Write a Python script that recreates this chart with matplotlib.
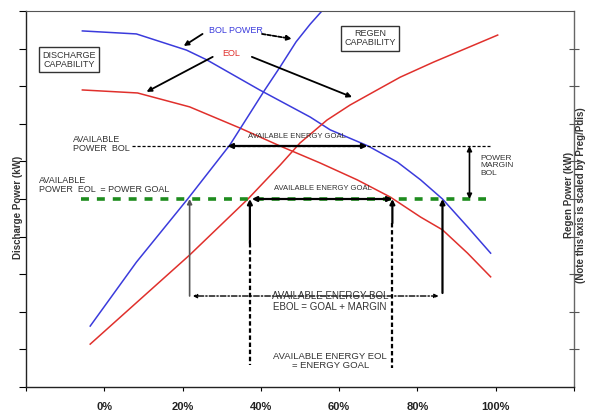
import matplotlib
matplotlib.use("Agg")
import matplotlib.pyplot as plt

plt.rcParams['font.family'] = ['Liberation Sans', 'DejaVu Sans']

# state of charge (%) and power (arbitrary units, 0..10)
bol_dis_x = [-5.6, 8.2, 21.0, 26.2, 39.7, 52.6, 57.7, 67.4, 74.9, 80.8, 86.4, 92.8, 98.7]
bol_dis_y = [9.47, 9.39, 8.96, 8.70, 7.90, 7.18, 6.84, 6.41, 5.98, 5.51, 5.0, 4.26, 3.56]

eol_dis_x = [-5.6, 8.5, 21.8, 34.6, 44.9, 55.1, 64.6, 73.1, 80.8, 86.4, 92.8, 98.7]
eol_dis_y = [7.90, 7.82, 7.45, 6.89, 6.41, 5.96, 5.51, 5.05, 4.52, 4.18, 3.56, 2.93]

bol_reg_x = [-3.6, 8.2, 21.3, 32.1, 41.0, 44.9, 49.0, 52.6, 55.6, 56.7]
bol_reg_y = [1.62, 3.32, 5.0, 6.44, 7.90, 8.51, 9.18, 9.65, 10.0, 10.16]

eol_reg_x = [-3.6, 21.8, 36.7, 44.9, 50.0, 56.9, 62.8, 69.7, 75.6, 84.1, 100.5]
eol_reg_y = [1.14, 3.51, 5.0, 5.90, 6.49, 7.10, 7.50, 7.90, 8.24, 8.64, 9.36]

power_goal = 5.0
power_bol = 6.41
x_ticks = [-20, 0, 20, 40, 60, 80, 100, 120]
x_labels = ['', '0%', '20%', '40%', '60%', '80%', '100%', '']

blue = '#3b3bdc'
red = '#e0302c'
txt = '#333333'

fig = plt.figure(figsize=(6, 4.19), dpi=100)
ax = fig.add_axes([26/600, 1-387/419, 548/600, 376/419])
ax.set_xlim(-20, 120)
ax.set_ylim(0, 10)

ax.plot(bol_dis_x, bol_dis_y, color=blue, lw=1.1)
ax.plot(eol_dis_x, eol_dis_y, color=red, lw=1.1)
ax.plot(bol_reg_x, bol_reg_y, color=blue, lw=1.1)
ax.plot(eol_reg_x, eol_reg_y, color=red, lw=1.1)

# goal line and BOL power line
ax.plot([-5.9, 97.4], [power_goal, power_goal], color='#1e8c1e', lw=2.6,
        dashes=(2.2, 2.2))
ax.plot([7.2, 98.5], [power_bol, power_bol], color='black', lw=0.9,
        dashes=(2.5, 1.5))

arw = dict(arrowstyle='<|-|>', color='black', lw=1.6, mutation_scale=7,
           shrinkA=0, shrinkB=0)
ax.annotate('', xy=(31.5, power_bol), xytext=(67.2, power_bol), arrowprops=arw)
ax.annotate('', xy=(37.7, power_goal), xytext=(73.6, power_goal), arrowprops=arw)
ax.annotate('', xy=(93.3, power_bol), xytext=(93.3, power_goal),
            arrowprops=dict(arw, lw=1.2))
ax.text(49.2, 6.62, 'AVAILABLE ENERGY GOAL', fontsize=5.5, ha='center', color=txt)
ax.text(55.9, 5.24, 'AVAILABLE ENERGY GOAL', fontsize=5.5, ha='center', color=txt)

# vertical markers
up = dict(arrowstyle='-|>', color='black', mutation_scale=7, shrinkA=0, shrinkB=0)
ax.annotate('', xy=(21.8, power_goal), xytext=(21.8, 2.42),
            arrowprops=dict(up, lw=1.2, color='#555555'))
ax.annotate('', xy=(86.4, power_goal), xytext=(86.4, 2.5), arrowprops=dict(up, lw=1.6))
ax.annotate('', xy=(37.2, power_goal), xytext=(37.2, 3.83), arrowprops=dict(up, lw=1.6))
ax.annotate('', xy=(73.6, power_goal), xytext=(73.6, 4.36), arrowprops=dict(up, lw=1.6))
ax.plot([37.2, 37.2], [3.83, 0.585], color='black', lw=1.6, dashes=(2, 1.2))
ax.plot([73.6, 73.6], [4.36, 0.505], color='black', lw=1.6, dashes=(2, 1.2))

ax.annotate('', xy=(22.6, 2.42), xytext=(85.4, 2.42),
            arrowprops=dict(arrowstyle='<|-|>', color='black', lw=1.0,
                            linestyle=(0, (4, 1.5, 1, 1.5)), mutation_scale=6,
                            shrinkA=0, shrinkB=0))
ax.text(57.7, 2.42, 'AVAILABLE ENERGY BOL', fontsize=7, ha='center', va='center', color=txt)
ax.text(57.7, 2.13, 'EBOL = GOAL + MARGIN', fontsize=7, ha='center', va='center', color=txt)
ax.text(57.7, 0.69, 'AVAILABLE ENERGY EOL\n= ENERGY GOAL', fontsize=6.8, ha='center',
        va='center', color=txt, linespacing=1.1)
ax.text(96.2, 5.88, 'POWER\nMARGIN\nBOL', fontsize=6, ha='left', va='center',
        color=txt, linespacing=1.15)

ax.text(-7.9, 6.46, 'AVAILABLE\nPOWER  BOL', fontsize=6.5, ha='left', va='center',
        color=txt, linespacing=1.1)
ax.text(-16.7, 5.37, 'AVAILABLE\nPOWER  EOL  = POWER GOAL', fontsize=6.5, ha='left',
        va='center', color=txt, linespacing=1.1)

# curve labels
ax.text(33.6, 9.47, 'BOL POWER', fontsize=6.5, color=blue, ha='center', va='center')
ax.text(32.3, 8.88, 'EOL', fontsize=6.5, color=red, ha='center', va='center')
lab = dict(arrowstyle='-|>', color='black', lw=1.3, mutation_scale=7,
           shrinkA=0, shrinkB=0)
ax.annotate('', xy=(20.3, 9.07), xytext=(25.1, 9.39), arrowprops=lab)
ax.annotate('', xy=(47.9, 9.26), xytext=(40.3, 9.39),
            arrowprops=dict(lab, linestyle=(0, (2, 1))))
ax.annotate('', xy=(10.8, 7.85), xytext=(27.7, 8.78), arrowprops=lab)
ax.annotate('', xy=(63.3, 7.71), xytext=(37.7, 8.78), arrowprops=lab)

box = dict(boxstyle='square,pad=0.35', fc='white', ec='#333333', lw=1.0)
ax.text(-9.0, 8.70, 'DISCHARGE\nCAPABILITY', fontsize=6.5, ha='center', va='center',
        color=txt, bbox=box, linespacing=1.1)
ax.text(67.9, 9.28, 'REGEN\nCAPABILITY', fontsize=6.5, ha='center', va='center',
        color=txt, bbox=box, linespacing=1.1)

# axes styling
ax.set_xticks(x_ticks)
ax.set_xticklabels(x_labels, fontweight='bold', fontsize=8, color='#222222')
ax.set_yticks(range(11))
ax.set_yticklabels([])
ax.tick_params(axis='x', direction='out', length=3, pad=8)
ax.tick_params(axis='y', direction='out', length=5)
for s in ['left', 'bottom']:
    ax.spines[s].set_color('#222222')
    ax.spines[s].set_linewidth(1.0)
ax.spines['top'].set_color('#555555')
ax.spines['top'].set_linewidth(0.8)
ax.spines['right'].set_color('#666666')
ax.spines['right'].set_linewidth(1.0)

ax2 = ax.twinx()
ax2.set_ylim(0, 10)
ax2.set_yticks(range(1, 10))
ax2.set_yticklabels([])
ax2.tick_params(axis='y', direction='inout', length=7, color='#555555')
for s in ax2.spines.values():
    s.set_visible(False)

fig.text(18/600, 1-207/419, 'Discharge Power (kW)', rotation=90, fontsize=7,
         fontweight='bold', ha='center', va='center', color='#333333')
fig.text(575/600, 1-195/419, 'Regen Power (kW)\n(Note this axis is scaled by Preg/Pdis)',
         rotation=90, fontsize=7, fontweight='bold', ha='center', va='center',
         color='#333333', linespacing=1.3)

fig.savefig('out.png', dpi=100)
